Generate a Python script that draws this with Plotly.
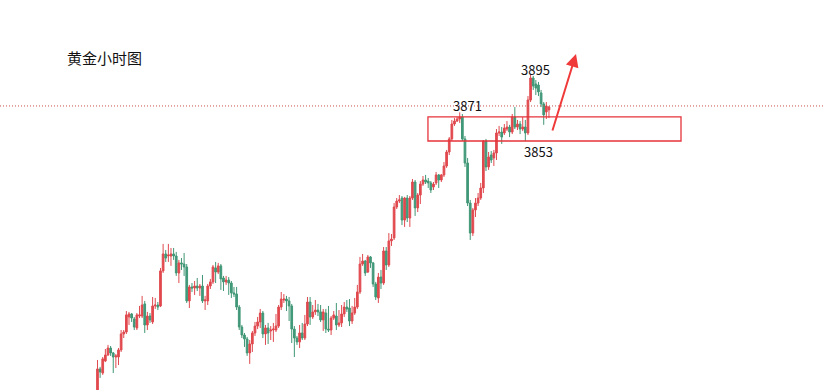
import plotly.graph_objects as go

# Hourly gold candles (index = hour number)
opens = [3693.3,3707.9,3705.3,3713.0,3716.8,3721.2,3718.1,3715.5,3715.5,3720.0,
3730.2,3731.4,3741.0,3742.9,3739.7,3734.0,3741.6,3741.6,3749.3,3735.9,
3741.6,3737.8,3748.0,3748.6,3748.0,3770.3,3781.1,3779.8,3779.8,3781.1,
3779.8,3769.0,3775.4,3774.7,3772.8,3751.2,3760.1,3759.4,3760.7,3759.4,
3760.7,3751.2,3751.2,3760.7,3763.3,3772.2,3769.6,3773.5,3765.8,3763.3,
3764.5,3762.6,3756.3,3755.6,3747.3,3734.6,3729.5,3727.0,3718.1,3723.8,
3730.8,3735.2,3737.8,3743.5,3730.2,3734.0,3732.1,3732.7,3732.7,3735.2,
3747.3,3751.8,3752.4,3751.2,3748.0,3733.3,3727.6,3725.1,3730.8,3727.6,
3736.5,3750.5,3741.0,3744.2,3745.4,3744.2,3739.1,3743.5,3733.3,3732.7,
3740.3,3741.6,3735.9,3737.2,3742.9,3747.3,3746.7,3738.4,3743.5,3747.3,
3756.9,3774.7,3776.6,3769.6,3779.2,3775.4,3762.0,3753.1,3766.4,3762.6,
3783.0,3774.1,3789.4,3791.3,3811.0,3814.8,3816.7,3802.7,3816.7,3804.0,
3816.7,3826.9,3810.4,3818.6,3825.6,3828.2,3827.5,3826.3,3823.7,3826.3,
3831.4,3828.2,3831.4,3837.1,3846.0,3854.3,3863.8,3865.7,3867.0,3868.3,
3854.3,3839.0,3813.5,3794.4,3809.1,3813.5,3816.7,3823.1,3853.0,3836.5,
3844.1,3842.2,3845.4,3858.1,3858.7,3858.1,3860.6,3861.9,3858.7,3868.3,
3861.9,3863.8,3860.6,3861.9,3858.1,3879.1,3893.1,3889.3,3888.6,3883.6,
3876.6,3871.5,3872.8]

highs = [3713.6,3709.2,3715.5,3720.6,3723.2,3722.5,3718.7,3717.4,3721.2,3732.7,
3732.7,3744.8,3744.2,3743.5,3741.0,3743.5,3748.0,3754.4,3751.2,3744.2,
3743.5,3753.7,3753.1,3750.5,3772.2,3787.5,3783.6,3787.5,3784.9,3784.9,
3782.4,3777.3,3778.5,3781.7,3774.7,3761.4,3762.6,3763.9,3765.8,3762.0,
3767.7,3754.4,3762.0,3765.2,3774.1,3776.0,3775.4,3774.7,3767.1,3767.1,
3766.4,3763.9,3760.1,3760.1,3748.6,3735.9,3730.8,3728.3,3726.3,3732.1,
3737.8,3741.0,3746.1,3744.8,3735.9,3737.2,3735.2,3737.2,3742.9,3748.6,
3756.9,3755.6,3754.4,3753.7,3749.3,3735.2,3728.9,3735.9,3737.2,3742.3,
3753.7,3753.7,3748.6,3751.8,3749.3,3748.6,3746.1,3746.1,3748.0,3741.6,
3744.8,3749.9,3745.4,3748.6,3750.5,3751.8,3752.4,3748.0,3753.1,3761.4,
3779.2,3781.1,3777.3,3780.4,3779.8,3776.0,3763.3,3769.0,3770.9,3785.5,
3785.5,3794.4,3793.8,3813.5,3816.7,3818.6,3818.0,3817.4,3818.6,3818.0,
3828.8,3828.2,3819.9,3827.5,3830.7,3831.4,3829.5,3827.5,3826.9,3833.3,
3832.0,3832.0,3839.6,3847.3,3855.5,3866.4,3867.6,3868.3,3871.2,3870.2,
3856.2,3842.2,3815.5,3810.4,3816.7,3819.9,3826.3,3853.6,3854.3,3846.0,
3846.6,3847.3,3860.6,3862.6,3861.9,3863.8,3865.7,3863.3,3870.2,3874.6,
3866.4,3865.7,3868.3,3866.4,3881.6,3895.0,3894.4,3891.8,3890.6,3885.5,
3877.8,3877.8,3875.3]

lows = [3693.3,3702.2,3704.1,3712.3,3716.2,3716.2,3705.3,3708.5,3710.4,3718.7,
3727.6,3730.2,3735.9,3737.8,3732.7,3732.7,3740.3,3740.3,3730.8,3732.7,
3737.2,3736.5,3746.1,3745.4,3747.3,3769.0,3776.0,3776.0,3773.5,3777.3,
3767.1,3762.6,3770.9,3767.1,3749.9,3746.7,3756.9,3755.0,3757.5,3754.4,
3749.9,3745.4,3748.6,3758.8,3762.0,3762.6,3768.3,3758.2,3757.5,3761.4,
3755.0,3753.1,3753.7,3745.4,3732.7,3727.6,3721.9,3716.2,3711.1,3718.7,
3728.9,3733.3,3734.0,3727.6,3723.2,3723.8,3726.3,3725.1,3731.4,3734.0,
3745.4,3749.9,3744.8,3738.4,3724.4,3715.5,3723.2,3721.2,3726.3,3726.3,
3735.2,3735.9,3739.7,3742.3,3741.6,3737.8,3732.1,3730.8,3731.4,3729.5,
3739.1,3732.7,3734.6,3734.6,3741.0,3744.2,3735.2,3736.5,3742.3,3746.1,
3755.6,3773.5,3767.1,3769.0,3772.2,3760.1,3751.8,3749.9,3758.8,3761.4,
3770.9,3772.8,3786.2,3790.0,3809.7,3813.5,3799.5,3798.3,3801.4,3798.3,
3815.5,3805.3,3807.8,3812.9,3824.4,3825.6,3823.1,3819.9,3821.8,3825.0,
3823.1,3826.9,3830.1,3835.9,3844.1,3853.0,3862.6,3865.1,3864.5,3853.0,
3836.5,3811.6,3790.0,3792.5,3804.6,3811.6,3815.5,3819.9,3833.9,3834.6,
3839.0,3837.1,3840.9,3856.2,3851.1,3856.8,3859.3,3855.5,3857.4,3860.6,
3860.0,3857.4,3859.3,3853.0,3856.8,3877.8,3885.5,3882.3,3881.6,3874.6,
3863.3,3867.0,3867.6]

closes = [3707.9,3706.0,3714.3,3716.8,3721.2,3718.1,3715.5,3716.2,3720.0,3730.2,
3731.4,3742.3,3742.9,3740.3,3734.6,3742.3,3742.3,3748.6,3735.9,3741.6,
3739.1,3748.0,3748.6,3747.3,3770.3,3781.1,3778.5,3780.4,3781.1,3779.8,
3769.0,3775.4,3774.7,3772.8,3751.2,3760.1,3759.4,3760.7,3759.4,3760.7,
3751.2,3751.8,3760.7,3763.3,3772.8,3769.6,3773.5,3765.2,3763.3,3764.5,
3762.6,3756.3,3755.6,3747.3,3734.6,3729.5,3727.0,3718.1,3723.8,3730.8,
3735.2,3737.8,3743.5,3730.2,3734.0,3730.8,3732.7,3733.3,3735.2,3747.3,
3752.4,3752.4,3751.2,3748.0,3733.3,3727.6,3725.1,3730.8,3727.6,3736.5,
3750.5,3741.0,3744.2,3745.4,3744.2,3739.1,3744.2,3733.3,3732.7,3740.3,
3742.3,3735.9,3737.2,3742.9,3747.3,3746.1,3738.4,3743.5,3747.3,3756.9,
3774.7,3776.6,3769.0,3779.2,3775.4,3762.0,3753.7,3766.4,3762.6,3783.0,
3774.1,3789.4,3790.6,3811.0,3814.8,3815.5,3802.7,3816.7,3804.0,3816.7,
3826.9,3810.4,3818.6,3825.6,3828.2,3826.9,3826.3,3821.8,3825.6,3831.4,
3828.2,3831.4,3837.1,3846.0,3854.3,3863.8,3865.7,3867.0,3868.3,3854.3,
3839.0,3813.5,3794.4,3809.1,3813.5,3816.7,3823.1,3853.0,3836.5,3842.8,
3840.9,3845.4,3858.1,3858.7,3855.5,3861.2,3861.9,3858.7,3868.3,3861.9,
3863.8,3860.6,3861.9,3858.1,3879.1,3893.1,3888.0,3886.7,3884.2,3876.6,
3869.6,3875.3,3874.6]

hours = list(range(len(opens)))

title_text = "黄金小时图"
level_labels = ["3895", "3871", "3853"]
resistance_line = 3875.3
zone_low, zone_high = 3853.0, 3868.3

RED = "#e5474c"
GREEN = "#3f9a80"

fig = go.Figure(go.Candlestick(
    x=hours, open=opens, high=highs, low=lows, close=closes,
    increasing=dict(fillcolor=RED, line=dict(color="#df4a4f", width=1)),
    decreasing=dict(fillcolor=GREEN, line=dict(color="#419775", width=1)),
    whiskerwidth=0, showlegend=False, hoverinfo="skip"))

fig.update_layout(
    width=825, height=390, autosize=False,
    margin=dict(l=0, r=0, t=0, b=0),
    paper_bgcolor="white", plot_bgcolor="white",
    xaxis=dict(range=[-37.14, 277.16], visible=False, rangeslider=dict(visible=False),
               showgrid=False, zeroline=False),
    yaxis=dict(range=[3694.5, 3942.75], visible=False, showgrid=False, zeroline=False),
    boxgap=0.08,
    font=dict(family="Noto Sans CJK SC, Noto Sans, sans-serif", color="#111"),
)

# dotted horizontal reference line
fig.add_shape(type="line", xref="paper", x0=0, x1=1, yref="y",
              y0=resistance_line, y1=resistance_line,
              line=dict(color="#c8504c", width=1, dash="1px,2px"))
# support zone box
fig.add_shape(type="rect", xref="x", x0=125.9, x1=222.3, yref="y",
              y0=zone_low, y1=zone_high,
              line=dict(color="#e5333a", width=1.3), fillcolor="rgba(0,0,0,0)")

fig.add_annotation(text=title_text, xref="paper", yref="paper",
                   x=105/825, y=1-57/390, xanchor="center", yanchor="middle",
                   showarrow=False, font=dict(size=15, color="#111"))
label_pos = [(166.7, 3898.8), (141.15, 3875.3), (168.2, 3846.0)]
for t, (lx, ly) in zip(level_labels, label_pos):
    fig.add_annotation(text=t, x=lx, y=ly, xref="x", yref="y", showarrow=False,
                       xanchor="center", yanchor="middle",
                       font=dict(size=13, color="#111"))

# red arrow
fig.add_annotation(text="", xref="paper", yref="paper", x=576/825, y=1-54/390,
                   ax=-24, ay=78, axref="pixel", ayref="pixel", showarrow=True,
                   arrowhead=2, arrowsize=1.3, arrowwidth=2, arrowcolor="#f03a3a")

fig.write_html("out.html")
